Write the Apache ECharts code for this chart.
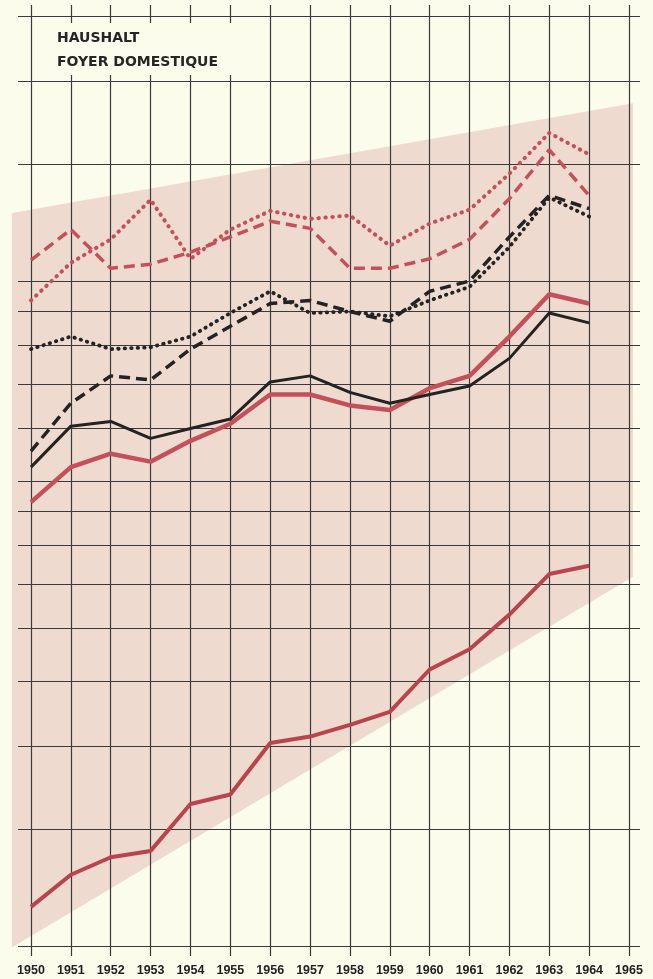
<!DOCTYPE html>
<html>
<head>
<meta charset="utf-8">
<script src="https://cdn.jsdelivr.net/npm/echarts@6/dist/echarts.min.js"></script>
<style>
html,body{margin:0;padding:0;background:#fcfcec;}
#chart{width:653px;height:979px;}
</style>
</head>
<body>
<div id="chart"></div>
<script>
// ---- data ----
var years = [1950,1951,1952,1953,1954,1955,1956,1957,1958,1959,1960,1961,1962,1963,1964];
var yearTicks = [1950,1951,1952,1953,1954,1955,1956,1957,1958,1959,1960,1961,1962,1963,1964,1965];
var gridValues = [20,30,40,50,60,70,80,90,100,120,140,160,180,200,300,400,500];
var titleLines = ['HAUSHALT', 'FOYER DOMESTIQUE'];

var redDotted   = [187,213,231,265,216,239,255,248,251,226,244,256,290,334,310];
var redDashed   = [215,239,209,212,221,233,246,240,209,209,216,231,266,315,269];
var blackDotted = [158,165,158,159,165,179,193,179,180,177,187,196,225,267,250];
var blackDashed = [111,131,144,142,158,171,185,187,180,174,193,200,233,269,257];
var blackSolid  = [105,121,123,116,120,124,141,144,136,131,135,139,153,179,173];
var redSolid    = [93,105,110,107,115,122,135,135,130,128,138,144,165,191,185];
var redLow      = [22.9,25.6,27.2,27.8,32.7,33.8,40.4,41.3,43.0,45.0,52.1,55.9,63,72.5,74.6];

// shaded band (year, value) corners
var bandCorners = [[1949.52,253],[1965.10,370],[1965.10,71.8],[1949.52,19.9]];

function pairs(vals){ return years.map(function(y,i){ return [y, vals[i]]; }); }

var RED = '#c4505a';
var BLACK = '#232323';
var GRID = '#3a3a3a';

var gridLineData = yearTicks.map(function(y){ return {xAxis:y}; })
  .concat(gridValues.map(function(v){ return {yAxis:v}; }));

var chart = echarts.init(document.getElementById('chart'), null, {renderer:'canvas'});
chart.setOption({
  animation:false,
  backgroundColor:'#fcfcec',
  grid:{left:18, right:13, top:5, bottom:23},
  xAxis:{
    type:'value', min:1949.674, max:1965.276,
    axisLine:{show:false}, axisTick:{show:false}, splitLine:{show:false},
    axisLabel:{
      customValues: yearTicks,
      margin:8,
      fontFamily:'Liberation Sans', fontWeight:'bold', fontSize:12.5, color:'#222',
      formatter:function(v){ return String(Math.round(v)); }
    }
  },
  yAxis:{
    type:'log', logBase:10, min:19.32, max:520.1,
    axisLine:{show:false}, axisTick:{show:false}, axisLabel:{show:false}, splitLine:{show:false}
  },
  graphic:[
    {type:'rect', z:100, shape:{x:45,y:23,width:200,height:52}, style:{fill:'#fcfcec'}},
    {type:'text', z:101, x:57, y:38, style:{text:titleLines[0], font:'bold 14px "DejaVu Sans"', fill:'#262626', verticalAlign:'middle'}},
    {type:'text', z:101, x:57, y:62.5, style:{text:titleLines[1], font:'bold 14px "DejaVu Sans"', fill:'#262626', verticalAlign:'middle'}}
  ],
  series:[
    {
      type:'custom', z:1, clip:false, silent:true,
      data:[bandCorners[0]],
      renderItem:function(params, api){
        var pts = bandCorners.map(function(c){ return api.coord(c); });
        return {type:'polygon', shape:{points:pts}, style:{fill:'#efdad0'}};
      }
    },
    {
      type:'line', z:2, data:[], silent:true,
      markLine:{
        silent:true, symbol:'none', animation:false,
        label:{show:false},
        lineStyle:{color:GRID, width:1.2, type:'solid'},
        emphasis:{disabled:true},
        data:gridLineData
      }
    },
    {type:'line', z:5, data:pairs(redLow), symbol:'none', lineStyle:{color:'#b9444c', width:4}},
    {type:'line', z:5, data:pairs(redSolid), symbol:'none', lineStyle:{color:RED, width:4.5}},
    {type:'line', z:6, data:pairs(blackSolid), symbol:'none', lineStyle:{color:BLACK, width:3}},
    {type:'line', z:6, data:pairs(blackDashed), symbol:'none', lineStyle:{color:BLACK, width:3.5, type:[11,6]}},
    {type:'line', z:6, data:pairs(blackDotted), symbol:'none', lineStyle:{color:BLACK, width:3.8, type:[0.5,6], cap:'round'}},
    {type:'line', z:5, data:pairs(redDashed), symbol:'none', lineStyle:{color:RED, width:3.5, type:[11,6]}},
    {type:'line', z:5, data:pairs(redDotted), symbol:'none', lineStyle:{color:RED, width:4, type:[0.5,6.5], cap:'round'}}
  ]
});
</script>
</body>
</html>
